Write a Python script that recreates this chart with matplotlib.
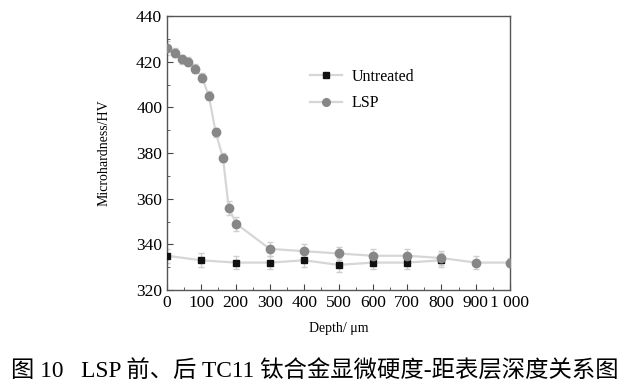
import matplotlib.pyplot as plt
import numpy as np

# LSP treated samples
lsp_depth = [0, 23, 43, 62, 83, 102, 122, 142, 163, 180, 202, 300, 400, 500, 600, 700, 800, 900, 1000]
lsp_hv = [426, 424, 421, 420, 417, 413, 405, 389, 378, 356, 349, 338, 337, 336, 335, 335, 334, 332, 332]
lsp_err = [3, 2, 2, 2, 2, 2, 2, 2, 2, 3, 3, 3, 3, 3, 3, 3, 3, 3, 2]

# untreated samples
un_depth = [0, 100, 200, 300, 400, 500, 600, 700, 800]
un_hv = [335, 333, 332, 332, 333, 331, 332, 332, 333]
un_err = [3, 3, 3, 3, 3, 3, 3, 3, 3]

xticks = [0, 100, 200, 300, 400, 500, 600, 700, 800, 900, 1000]
xticklabels = ['0', '100', '200', '300', '400', '500', '600', '700', '800', '900', '1 000']

plt.rcParams['font.family'] = ['Liberation Serif', 'Noto Sans CJK SC']

fig = plt.figure(figsize=(6.3, 3.92), dpi=100)
ax = fig.add_axes([167 / 630, 1 - 290 / 392, 343 / 630, 274 / 392])

ax.errorbar(un_depth, un_hv, yerr=un_err, fmt='none', ecolor='#cfcfcf', elinewidth=1, capsize=2, zorder=2)
ax.errorbar(lsp_depth, lsp_hv, yerr=lsp_err, fmt='none', ecolor='#cfcfcf', elinewidth=1, capsize=2, zorder=2)
ax.plot(un_depth, un_hv, color='#d6d6d6', lw=1.6, zorder=3)
ax.plot(lsp_depth, lsp_hv, color='#d6d6d6', lw=1.6, zorder=3)
ax.plot(un_depth, un_hv, 's', color='#111111', ms=4.8, zorder=4)
ax.plot(lsp_depth, lsp_hv, 'o', color='#878787', ms=6, zorder=5)

# legend drawn by hand to mimic the source layout
h1, = ax.plot([], [], 's-', color='#d6d6d6', mfc='#111111', mec='#111111', ms=4.5, lw=1.6)
h2, = ax.plot([], [], 'o-', color='#d6d6d6', mfc='#878787', mec='#878787', ms=5.5, lw=1.6)
ax.legend([h1, h2], ['Untreated', 'LSP'], loc='upper left', bbox_to_anchor=(0.375, 0.86),
          frameon=False, fontsize=11.5, handlelength=2.0, handletextpad=0.6, labelspacing=0.65)

ax.set_xlim(0, 1000)
ax.set_ylim(320, 440)
ax.set_xticks(xticks)
ax.set_xticklabels(xticklabels)
ax.set_xticks(np.arange(50, 1000, 100), minor=True)
ax.set_yticks(np.arange(320, 441, 20))
ax.set_yticks(np.arange(330, 440, 20), minor=True)
ax.tick_params(which='both', direction='in', top=False, right=False, labelsize=12.5, color='#444444')
ax.tick_params(which='major', length=4)
ax.tick_params(which='minor', length=2.5)
for s in ax.spines.values():
    s.set_color('#555555')
    s.set_linewidth(1)

ax.set_xlabel('Depth/ μm', fontsize=10, labelpad=8)
ax.set_ylabel('Microhardness/HV', fontsize=10, labelpad=18)

fig.text(0.5, 1 - 372 / 392, '图 10   LSP 前、后 TC11 钛合金显微硬度-距表层深度关系图',
         ha='center', va='center', fontsize=16.8)

fig.savefig('out.png', dpi=100)
